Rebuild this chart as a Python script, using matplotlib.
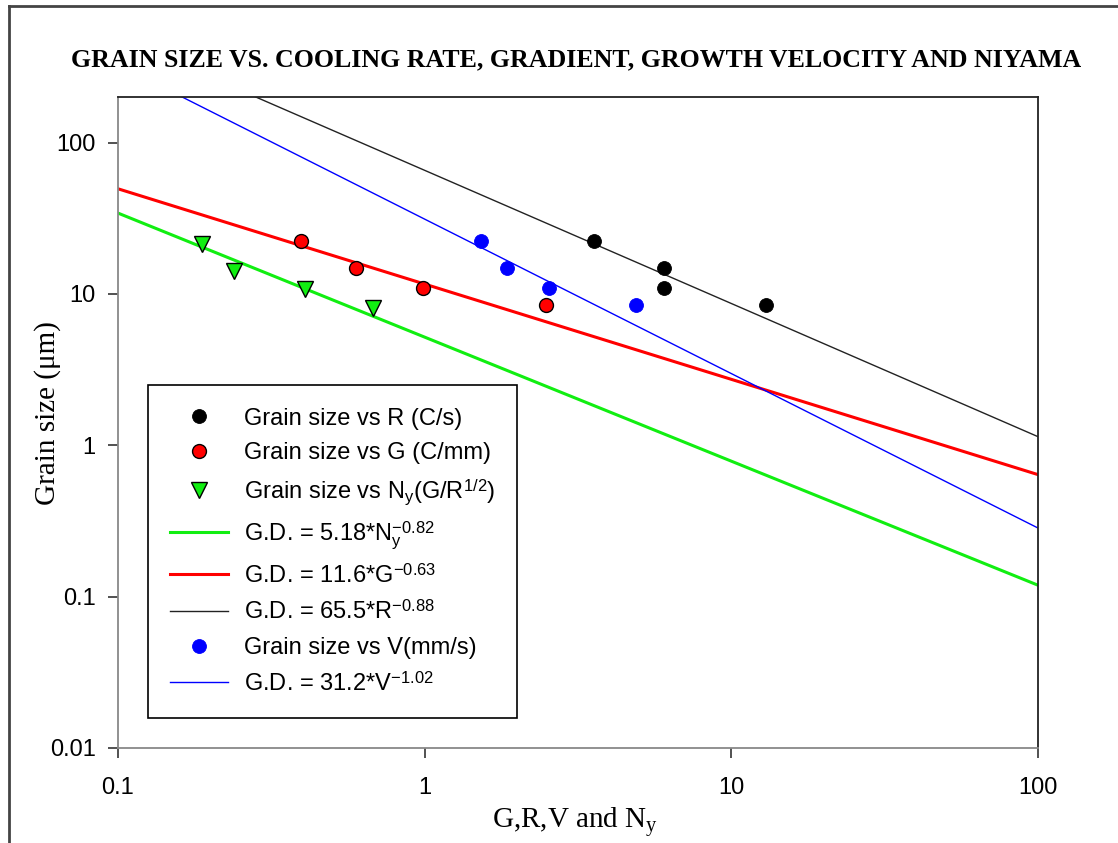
import matplotlib
matplotlib.use("Agg")
import matplotlib.pyplot as plt
from matplotlib.lines import Line2D
from matplotlib.ticker import FixedLocator, FixedFormatter, NullLocator

plt.rcParams['mathtext.fontset'] = 'custom'
plt.rcParams['mathtext.rm'] = 'Liberation Serif'
plt.rcParams['mathtext.sf'] = 'Liberation Sans'
plt.rcParams['mathtext.it'] = 'Liberation Serif:italic'

# ---- data ----
grain_size = [22.5, 14.8, 11.0, 8.4]
R_x = [3.57, 6.04, 6.04, 12.97]
R_y = [22.5, 14.8, 11.0, 8.4]
G_x = [0.395, 0.596, 0.985, 2.49]
G_y = grain_size
V_x = [1.53, 1.86, 2.54, 4.89]
V_y = grain_size
Ny_x = [0.188, 0.239, 0.407, 0.677]
Ny_y = [21.5, 14.1, 10.8, 8.1]

fit_x = [0.1, 100]
fit_Ny = [34.2, 0.119]
fit_G = [49.5, 0.64]
fit_R = [497.0, 1.14]
fit_V = [327.0, 0.284]

xticks = [0.1, 1, 10, 100]
xticklabels = ["0.1", "1", "10", "100"]
yticks = [0.01, 0.1, 1, 10, 100]
yticklabels = ["0.01", "0.1", "1", "10", "100"]

W, H = 1118, 843
fig = plt.figure(figsize=(W / 100, H / 100), dpi=100)
ax = fig.add_axes([118 / W, 1 - 748 / H, 920 / W, 651 / H])

ax.set_xscale('log')
ax.set_yscale('log')
ax.set_xlim(0.1, 100)
ax.set_ylim(0.01, 200)

l_ny, = ax.plot(fit_x, fit_Ny, color='#11ee11', lw=2.2, zorder=2)
l_g, = ax.plot(fit_x, fit_G, color='#ff0000', lw=2.2, zorder=2)
l_r, = ax.plot(fit_x, fit_R, color='#222222', lw=1.0, zorder=2)
l_v, = ax.plot(fit_x, fit_V, color='#0000ff', lw=1.0, zorder=2)

p_r, = ax.plot(R_x, R_y, 'o', color='black', ms=10, mec='black', mew=0.6, zorder=3)
p_g, = ax.plot(G_x, G_y, 'o', color='#ff0000', ms=10, mec='black', mew=1.0, zorder=3)
p_ny, = ax.plot(Ny_x, Ny_y, 'v', color='#11ee11', ms=12, mec='black', mew=1.0, zorder=3)
p_v, = ax.plot(V_x, V_y, 'o', color='#0000ff', ms=10, mec='#0000ff', mew=0.6, zorder=3)

ax.xaxis.set_major_locator(FixedLocator(xticks))
ax.xaxis.set_major_formatter(FixedFormatter(xticklabels))
ax.xaxis.set_minor_locator(NullLocator())
ax.yaxis.set_major_locator(FixedLocator(yticks))
ax.yaxis.set_major_formatter(FixedFormatter(yticklabels))
ax.yaxis.set_minor_locator(NullLocator())

ax.tick_params(axis='both', direction='out', length=7, width=1.2, color='#333333',
               labelsize=17)
for lab in ax.get_xticklabels() + ax.get_yticklabels():
    lab.set_family('Liberation Sans')
ax.tick_params(axis='y', pad=9)
ax.tick_params(axis='x', pad=14)

for s in ['left', 'bottom']:
    ax.spines[s].set_color('#888888')
    ax.spines[s].set_linewidth(1.3)
for s in ['top', 'right']:
    ax.spines[s].set_color('#222222')
    ax.spines[s].set_linewidth(1.3)

ax.set_xlabel('G,R,V and N$_\\mathrm{y}$', family='Liberation Serif', fontsize=21)
ax.set_ylabel('Grain size (\u03bcm)', family='Liberation Serif', fontsize=21)
ax.xaxis.set_label_coords(0.497, -0.087)
ax.yaxis.set_label_coords(-0.062, 0.515)

fig.text(576 / W, 1 - 60 / H,
         'GRAIN SIZE VS. COOLING RATE, GRADIENT, GROWTH VELOCITY AND NIYAMA',
         family='Liberation Serif', weight='bold', fontsize=18.6,
         ha='center', va='center')

handles = [p_r, p_g, p_ny, l_ny, l_g, l_r, p_v, l_v]
labels = [
    'Grain size vs R (C/s)',
    'Grain size vs G (C/mm)',
    'Grain size vs N$_\\mathsf{y}$(G/R$^\\mathsf{1/2}$)',
    'G.D. = 5.18*N$_\\mathsf{y}^\\mathsf{-0.82}$',
    'G.D. = 11.6*G$^\\mathsf{-0.63}$',
    'G.D. = 65.5*R$^\\mathsf{-0.88}$',
    'Grain size vs V(mm/s)',
    'G.D. = 31.2*V$^\\mathsf{-1.02}$',
]
leg = ax.legend(handles, labels, loc='lower left', bbox_to_anchor=(30 / 920, 30 / 651),
                borderaxespad=0, fancybox=False, framealpha=1, edgecolor='black',
                prop={'family': 'Liberation Sans', 'size': 17},
                handlelength=2.45, handletextpad=0.65, labelspacing=0.54, borderpad=0.95)
leg.get_frame().set_linewidth(1.2)

# figure border
fig.add_artist(Line2D([9 / W, 9 / W], [1 - 6 / H, 0], transform=fig.transFigure,
                      color='#444444', lw=2))
fig.add_artist(Line2D([9 / W, 1], [1 - 6 / H, 1 - 6 / H], transform=fig.transFigure,
                      color='#444444', lw=2))

fig.savefig('out.png', dpi=100)
